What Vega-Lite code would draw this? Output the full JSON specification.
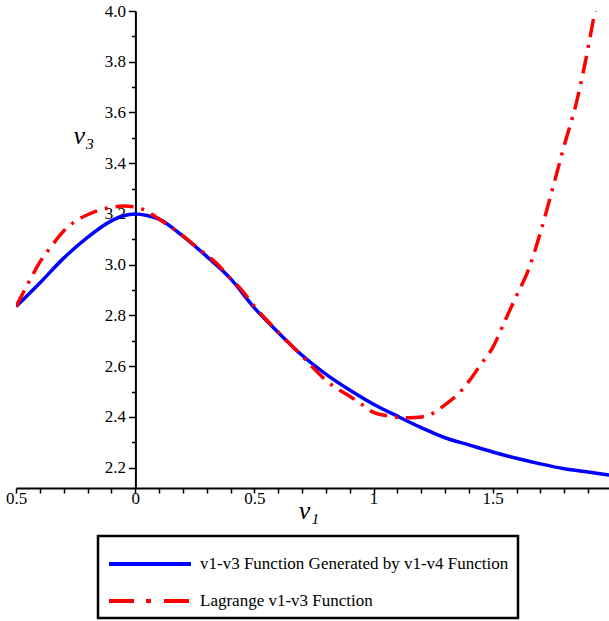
{
  "$schema": "https://vega.github.io/schema/vega-lite/v6.json",
  "width": 593,
  "height": 477,
  "autosize": {"type": "none"},
  "padding": {"left": 16, "top": 11, "right": 0, "bottom": 133},
  "background": "white",
  "config": {"view": {"stroke": null}, "font": "Liberation Serif"},
  "datasets": {
    "generated": [
      {"v1": -0.5, "v3": 2.835}, {"v1": -0.4, "v3": 2.928}, {"v1": -0.3, "v3": 3.026},
      {"v1": -0.2, "v3": 3.108}, {"v1": -0.1, "v3": 3.173}, {"v1": -0.05, "v3": 3.193},
      {"v1": 0, "v3": 3.2}, {"v1": 0.05, "v3": 3.194}, {"v1": 0.1, "v3": 3.18},
      {"v1": 0.2, "v3": 3.113}, {"v1": 0.3, "v3": 3.033}, {"v1": 0.4, "v3": 2.945},
      {"v1": 0.5, "v3": 2.83}, {"v1": 0.6, "v3": 2.733}, {"v1": 0.7, "v3": 2.643},
      {"v1": 0.8, "v3": 2.569}, {"v1": 0.9, "v3": 2.506}, {"v1": 1.0, "v3": 2.45},
      {"v1": 1.1, "v3": 2.403}, {"v1": 1.2, "v3": 2.358}, {"v1": 1.3, "v3": 2.318},
      {"v1": 1.4, "v3": 2.29}, {"v1": 1.5, "v3": 2.262}, {"v1": 1.6, "v3": 2.237},
      {"v1": 1.7, "v3": 2.215}, {"v1": 1.8, "v3": 2.196}, {"v1": 1.9, "v3": 2.183},
      {"v1": 2.0, "v3": 2.17}
    ],
    "lagrange": [
      {"v1": -0.5, "v3": 2.835}, {"v1": -0.45, "v3": 2.925}, {"v1": -0.4, "v3": 3.01},
      {"v1": -0.35, "v3": 3.075}, {"v1": -0.3, "v3": 3.133}, {"v1": -0.25, "v3": 3.172},
      {"v1": -0.2, "v3": 3.197}, {"v1": -0.15, "v3": 3.215}, {"v1": -0.1, "v3": 3.226},
      {"v1": -0.05, "v3": 3.231}, {"v1": 0, "v3": 3.228}, {"v1": 0.05, "v3": 3.21},
      {"v1": 0.1, "v3": 3.18}, {"v1": 0.15, "v3": 3.148}, {"v1": 0.2, "v3": 3.115},
      {"v1": 0.25, "v3": 3.075}, {"v1": 0.3, "v3": 3.038}, {"v1": 0.35, "v3": 2.998},
      {"v1": 0.4, "v3": 2.945}, {"v1": 0.45, "v3": 2.897}, {"v1": 0.5, "v3": 2.836},
      {"v1": 0.55, "v3": 2.784}, {"v1": 0.6, "v3": 2.735}, {"v1": 0.65, "v3": 2.687},
      {"v1": 0.7, "v3": 2.64}, {"v1": 0.75, "v3": 2.591}, {"v1": 0.8, "v3": 2.545},
      {"v1": 0.85, "v3": 2.51}, {"v1": 0.9, "v3": 2.482}, {"v1": 0.95, "v3": 2.45},
      {"v1": 1.0, "v3": 2.418}, {"v1": 1.05, "v3": 2.406}, {"v1": 1.1, "v3": 2.399},
      {"v1": 1.15, "v3": 2.397}, {"v1": 1.2, "v3": 2.4}, {"v1": 1.25, "v3": 2.415},
      {"v1": 1.3, "v3": 2.448}, {"v1": 1.35, "v3": 2.486}, {"v1": 1.4, "v3": 2.54},
      {"v1": 1.45, "v3": 2.607}, {"v1": 1.5, "v3": 2.673}, {"v1": 1.55, "v3": 2.776},
      {"v1": 1.6, "v3": 2.878}, {"v1": 1.65, "v3": 2.98}, {"v1": 1.7, "v3": 3.126},
      {"v1": 1.75, "v3": 3.295}, {"v1": 1.8, "v3": 3.469}, {"v1": 1.85, "v3": 3.634},
      {"v1": 1.9, "v3": 3.853}, {"v1": 1.93, "v3": 4.003}, {"v1": 1.95, "v3": 4.09}
    ]
  },
  "encoding": {
    "x": {
      "field": "v1",
      "type": "quantitative",
      "scale": {"domain": [-0.5, 1.988], "nice": false, "zero": false},
      "axis": {
        "title": "v₁",
        "titleFont": "Liberation Serif",
        "titleFontStyle": "italic",
        "titleFontWeight": "normal",
        "titleFontSize": 26,
        "titleColor": "black",
        "titleX": 292.5,
        "titleY": 30,
        "titleAlign": "center",
        "titleBaseline": "alphabetic",
        "values": [-0.5, -0.4, -0.3, -0.2, -0.1, 0, 0.1, 0.2, 0.3, 0.4, 0.5, 0.6, 0.7, 0.8, 0.9, 1, 1.1, 1.2, 1.3, 1.4, 1.5, 1.6, 1.7, 1.8, 1.9, 2],
        "labelExpr": "abs(datum.value * 2 - round(datum.value * 2)) < 0.001 ? format(abs(datum.value), '~g') : ''",
        "labelFont": "Liberation Serif",
        "labelFontSize": 17,
        "labelColor": "black",
        "labelPadding": -3,
        "labelOverlap": false,
        "labelFlush": false,
        "labelBound": false,
        "tickSize": 5,
        "tickWidth": 1.5,
        "tickColor": "black",
        "domainColor": "black",
        "domainWidth": 2,
        "grid": false
      }
    },
    "y": {
      "field": "v3",
      "type": "quantitative",
      "scale": {"domain": [2.12, 4.0], "nice": false, "zero": false},
      "axis": {
        "title": "v₃",
        "titleFont": "Liberation Serif",
        "titleFontStyle": "italic",
        "titleFontWeight": "normal",
        "titleFontSize": 26,
        "titleColor": "black",
        "titleAngle": 0,
        "titleX": -52,
        "titleY": 132,
        "titleAlign": "center",
        "titleBaseline": "alphabetic",
        "offset": -119.4,
        "values": [2.2, 2.3, 2.4, 2.5, 2.6, 2.7, 2.8, 2.9, 3.0, 3.1, 3.2, 3.3, 3.4, 3.5, 3.6, 3.7, 3.8, 3.9, 4.0],
        "labelExpr": "abs(datum.value * 5 - round(datum.value * 5)) < 0.001 ? format(datum.value, '.1f') : ''",
        "labelFont": "Liberation Serif",
        "labelFontSize": 17,
        "labelColor": "black",
        "labelPadding": 3,
        "labelOverlap": false,
        "labelFlush": false,
        "tickSize": {"condition": {"test": "abs(datum.value * 5 - round(datum.value * 5)) < 0.001", "value": 7}, "value": 4},
        "tickWidth": 1.5,
        "tickColor": "black",
        "domainColor": "black",
        "domainWidth": 2,
        "grid": false
      }
    },
    "color": {
      "field": "series",
      "type": "nominal",
      "scale": {
        "domain": ["v1-v3 Function Generated by v1-v4 Function", "Lagrange v1-v3 Function"],
        "range": ["#0000ff", "#ff0000"]
      },
      "legend": {
        "title": null,
        "orient": "none",
        "legendX": 82,
        "legendY": 525,
        "direction": "vertical",
        "symbolType": "M-1,0H3.82",
        "symbolSize": 1156,
        "symbolStrokeWidth": 4,
        "labelFont": "Liberation Serif",
        "labelFontSize": 17,
        "labelColor": "black",
        "labelLimit": 0,
        "labelOffset": 55,
        "padding": 9,
        "rowPadding": 10,
        "strokeColor": "black",
        "fillColor": "white",
        "encode": {
          "legend": {"update": {"strokeWidth": {"value": 2.5}}},
          "symbols": {"update": {"strokeDash": {"signal": "datum.value === 'Lagrange v1-v3 Function' ? [25, 12, 5, 13] : [1, 0]"}}}
        }
      }
    }
  },
  "layer": [
    {
      "data": {"name": "generated"},
      "mark": {"type": "line", "strokeWidth": 3.5, "clip": true, "interpolate": "monotone"},
      "encoding": {"color": {"datum": "v1-v3 Function Generated by v1-v4 Function"}}
    },
    {
      "data": {"name": "lagrange"},
      "mark": {"type": "line", "strokeWidth": 3.5, "clip": true, "interpolate": "monotone", "strokeDash": [18, 8, 3, 8]},
      "encoding": {"color": {"datum": "Lagrange v1-v3 Function"}}
    }
  ]
}
